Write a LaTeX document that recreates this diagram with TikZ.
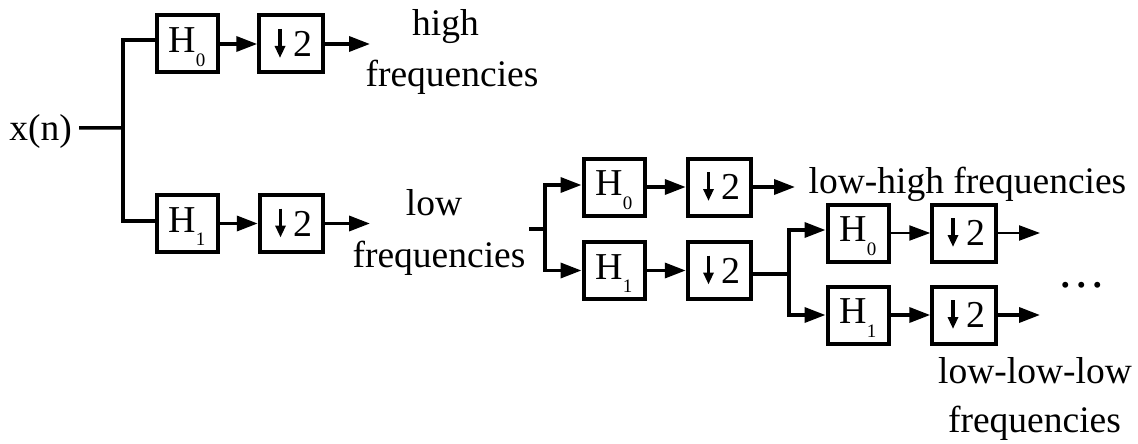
\documentclass[tikz,border=0pt]{standalone}
\usepackage{fontspec}
\setmainfont{Liberation Serif}
\usetikzlibrary{arrows.meta}
\newcommand{\Hsub}[1]{H\raisebox{-13.5pt}{\fontsize{19}{19}\selectfont #1}}
\begin{document}
\begin{tikzpicture}[x=1pt,y=-1pt,
  conn/.style={line width=3.5pt},
  thinconn/.style={line width=2.3pt},
  >={Triangle[length=21pt,width=15pt]},
  filt/.style={draw,line width=4pt,minimum width=61pt,minimum height=57pt,inner sep=0pt,
     font=\fontsize{38}{38}\selectfont,text height=31pt,text depth=14pt},
  dec/.style={draw,line width=4pt,minimum width=63.5pt,minimum height=57pt,inner sep=0pt,
     font=\fontsize{38}{38}\selectfont,
     path picture={\draw[line width=3.6pt,-{Triangle[length=12pt,width=10pt]}]
        ([xshift=-11pt,yshift=15pt]path picture bounding box.center) --
        ([xshift=-11pt,yshift=-14pt]path picture bounding box.center);}},
  txt/.style={inner sep=0pt,font=\fontsize{37.5}{40}\selectfont,anchor=base}]
\useasboundingbox (0,0) rectangle (1138,444);

% stage 1
\node[txt,anchor=base east] (xn) at (72,140) {x(n)};
\coordinate (j1) at (123,128);
\node[filt] (h0a) at (187,44) {\Hsub{0}};
\node[dec]  (d0a) at (291,44) {\hspace*{23pt}2};
\node[filt] (h1a) at (187,223.5) {\Hsub{1}};
\node[dec]  (d1a) at (291.5,223.5) {\hspace*{23pt}2};
\coordinate (o1) at (370,44);
\coordinate (o2) at (370,223.5);

\draw[conn] ([shift={(7pt,3pt)}]xn.east) -- (j1);
\draw[conn] ([yshift=4pt]h0a.west) -| (j1) |- ([yshift=2.5pt]h1a.west);
\draw[conn,->] (h0a) -- (d0a);
\draw[conn,->] (h1a) -- (d1a);
\draw[conn,->] (d0a) -- (o1);
\draw[conn,->] (d1a) -- (o2);

\node[txt] (t1) at (445.5,36) {high};
\node[txt] (t2) at (452,87) {frequencies};
\node[txt] (t3) at (434,215) {low};
\node[txt] (t4) at (439,267) {frequencies};

% stage 2
\coordinate (lf) at (529,229);
\coordinate (j2) at (545,229);
\node[filt] (h0b) at (614,187) {\Hsub{0}};
\node[dec]  (d0b) at (719.5,187) {\hspace*{23pt}2};
\node[filt] (h1b) at (614,270.5) {\Hsub{1}};
\node[dec]  (d1b) at (719.5,270.5) {\hspace*{23pt}2};
\coordinate (o3) at (795,187);

\draw[conn] (lf) -- (j2);
\draw[conn,->] (j2) |- ([yshift=2pt]h0b.west);
\draw[conn,->] (j2) |- (h1b.west);
\draw[conn,->] (h0b) -- (d0b);
\draw[conn,->] (h1b) -- (d1b);
\draw[conn,->] (d0b) -- (o3);

\node[txt] (t5) at (967.5,193) {low-high frequencies};

% stage 3
\coordinate (j3) at (789,274);
\node[filt] (h0c) at (858,233) {\Hsub{0}};
\node[dec]  (d0c) at (964,233) {\hspace*{23pt}2};
\node[filt] (h1c) at (858,315) {\Hsub{1}};
\node[dec]  (d1c) at (964,315) {\hspace*{23pt}2};
\coordinate (o5) at (1040,233);
\coordinate (o6) at (1040,315);

\draw[conn] ([yshift=-3.5pt]d1b.east) -- (j3);
\draw[conn,->] (j3) |- ([yshift=3pt]h0c.west);
\draw[conn,->] (j3) |- (h1c.west);
\draw[thinconn,->] (h0c) -- (d0c);
\draw[conn,->] (h1c) -- (d1c);
\draw[thinconn,->] (d0c) -- (o5);
\draw[conn,->] (d1c) -- (o6);

\node[inner sep=0pt,font=\fontsize{50}{50}\selectfont,anchor=center] (dots) at (1082,285) {.\hspace{3.5pt}.\hspace{3.5pt}.};
\node[txt] (t6) at (1035,383) {low-low-low};
\node[txt] (t7) at (1034.5,432) {frequencies};
\end{tikzpicture}
\end{document}
